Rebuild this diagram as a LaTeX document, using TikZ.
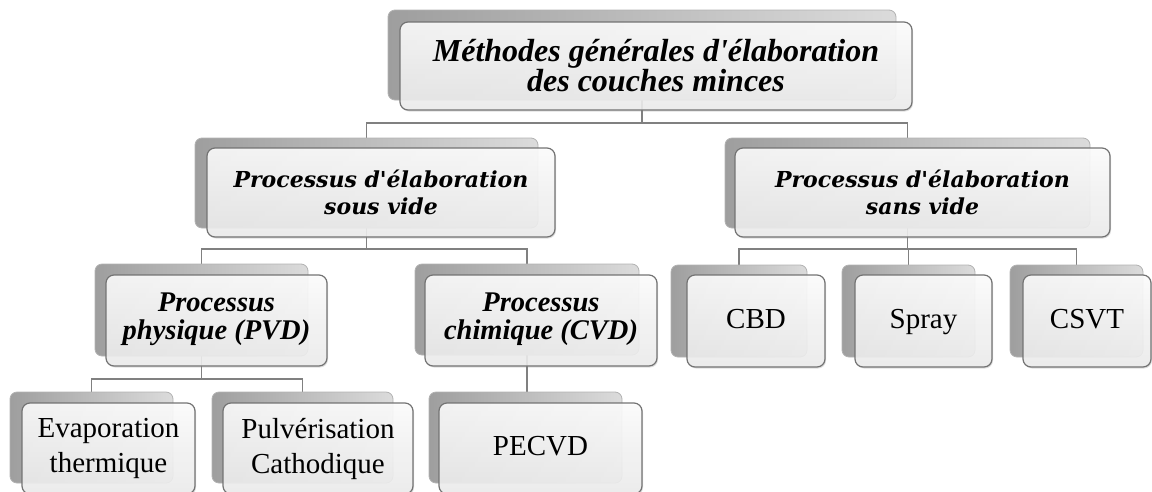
\documentclass[tikz,border=0pt]{standalone}
\usepackage{fontspec}
\setmainfont{Liberation Serif}
\newfontfamily\heavyserif{DejaVu Serif}
\usetikzlibrary{shadows}
\pgfdeclarelayer{wires}
\pgfsetlayers{wires,main}

\begin{document}
\begin{tikzpicture}[x=1pt,y=1pt,
  conn/.style={draw=black!50, line width=1.8pt},
  backcard/.style={rounded corners=7pt, draw=black!30, line width=0.8pt,
    left color=black!38, right color=black!14, inner sep=0pt, outer sep=0pt,
    anchor=north west},
  frontcard/.style={rounded corners=8pt, draw=black!55, line width=1.2pt,
    top color=white, bottom color=black!7, fill opacity=0.88, text opacity=1,
    inner sep=0pt, outer sep=0pt, anchor=north west, align=center,
    drop shadow={opacity=0.25, shadow xshift=1pt, shadow yshift=-1.5pt}},
  lvlone/.style={font=\fontsize{32}{30}\selectfont\bfseries\itshape},
  lvltwo/.style={font=\heavyserif\fontsize{22}{27}\selectfont\bfseries\itshape},
  lvlthree/.style={font=\fontsize{28.5}{27.5}\selectfont\bfseries\itshape},
  lvlfour/.style={font=\fontsize{29}{35}\selectfont}
]
\useasboundingbox (0,0) rectangle (1152,-491);
\clip (0,0) rectangle (1152,-491);

% rear cards
\node[backcard, minimum width=508pt, minimum height=90pt] (topB)   at (388,-10)  {};
\node[backcard, minimum width=343pt, minimum height=90pt] (sousB)  at (195,-138) {};
\node[backcard, minimum width=365pt, minimum height=90pt] (sansB)  at (725,-138) {};
\node[backcard, minimum width=213pt, minimum height=92pt] (pvdB)   at (95,-264)  {};
\node[backcard, minimum width=224pt, minimum height=91pt] (cvdB)   at (415,-264) {};
\node[backcard, minimum width=136pt, minimum height=92pt] (cbdB)   at (671,-265) {};
\node[backcard, minimum width=133pt, minimum height=92pt] (sprayB) at (842,-265) {};
\node[backcard, minimum width=133pt, minimum height=92pt] (csvtB)  at (1010,-265) {};
\node[backcard, minimum width=163pt, minimum height=91pt] (evapB)  at (10,-392)  {};
\node[backcard, minimum width=181pt, minimum height=91pt] (pulvB)  at (212,-392) {};
\node[backcard, minimum width=193pt, minimum height=91pt] (pecvdB) at (429,-392) {};

% front cards with labels
\node[frontcard, lvlone, minimum width=512pt, minimum height=88pt] (top) at (400,-22)
  {Méthodes générales d\textquotesingle élaboration\\des couches minces};
\node[frontcard, lvltwo, minimum width=348pt, minimum height=89pt] (sous) at (207,-148)
  {Processus d'élaboration\\sous vide};
\node[frontcard, lvltwo, minimum width=375pt, minimum height=89pt] (sans) at (735,-148)
  {Processus d'élaboration\\sans vide};
\node[frontcard, lvlthree, minimum width=221pt, minimum height=91pt] (pvd) at (106,-275)
  {Processus\\physique (PVD)\strut};
\node[frontcard, lvlthree, minimum width=232pt, minimum height=91pt] (cvd) at (425,-275)
  {Processus\\chimique (CVD)\strut};
\node[frontcard, lvlfour, minimum width=138pt, minimum height=92pt] (cbd) at (687,-275) {CBD\strut};
\node[frontcard, lvlfour, minimum width=137pt, minimum height=92pt] (spray) at (855,-275) {Spray\strut};
\node[frontcard, lvlfour, minimum width=128pt, minimum height=92pt] (csvt) at (1023,-275) {CSVT\strut};
\node[frontcard, lvlfour, minimum width=173pt, minimum height=91pt] (evap) at (22,-403)
  {Evaporation\\thermique};
\node[frontcard, lvlfour, minimum width=190pt, minimum height=91pt] (pulv) at (223,-403)
  {Pulvérisation\\Cathodique};
\node[frontcard, lvlfour, minimum width=203pt, minimum height=91pt] (pecvd) at (439,-403) {PECVD\strut};

% bus levels of the tree
\coordinate (busA) at (0,-123);
\coordinate (busB) at (0,-249);
\coordinate (busC) at (0,-379);

\begin{pgfonlayer}{wires}
  \draw[conn] (topB.south) -- (topB.south |- busA);
  \draw[conn] (sousB.north) |- (sansB.north |- busA) -- (sansB.north);
  \draw[conn] (sousB.south) -- (sousB.south |- busB);
  \draw[conn] (pvdB.north) |- (cvdB.north |- busB) -- (cvdB.north);
  \draw[conn] (sansB.south) -- (sansB.south |- busB);
  \draw[conn] (cbdB.north) |- (csvtB.north |- busB) -- (csvtB.north);
  \draw[conn] (sprayB.north) -- (sprayB.north |- busB);
  \draw[conn] (pvdB.south) -- (pvdB.south |- busC);
  \draw[conn] (evapB.north) |- (pulvB.north |- busC) -- (pulvB.north);
  \draw[conn] (cvdB.south) -- (cvdB.south |- pecvdB.north);
\end{pgfonlayer}
\end{tikzpicture}
\end{document}
